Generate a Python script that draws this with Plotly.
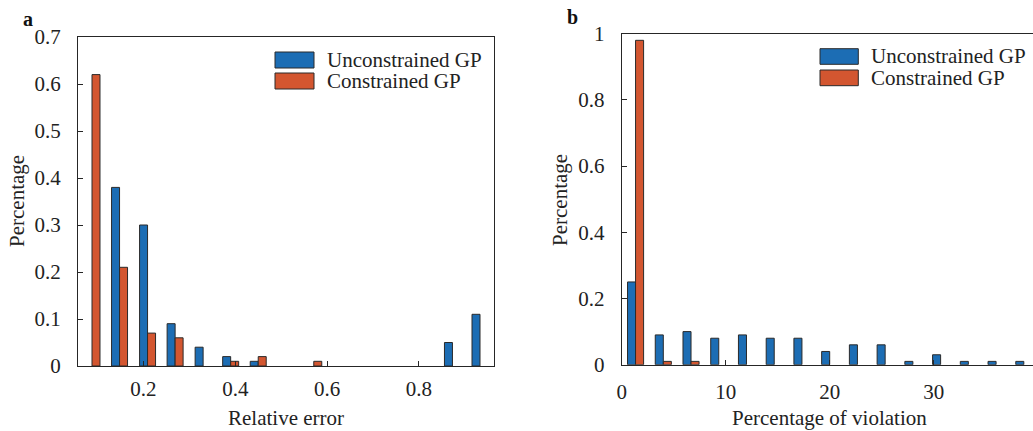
import plotly.graph_objects as go

# ---------------- data ----------------
# Panel a: relative error histogram (bin centres)
err_bins = [0.088, 0.148, 0.209, 0.269, 0.330, 0.390, 0.450, 0.511,
            0.571, 0.632, 0.692, 0.752, 0.813, 0.873, 0.933]
err_unconstrained = [0, 0.38, 0.30, 0.09, 0.04, 0.02, 0.01, 0, 0, 0, 0, 0, 0, 0.05, 0.11]
err_constrained = [0.62, 0.21, 0.07, 0.06, 0, 0.01, 0.02, 0, 0.01, 0, 0, 0, 0, 0, 0]

# Panel b: percentage of violation histogram (bin centres)
vio_bins = [1.333, 4.0, 6.667, 9.333, 12.0, 14.667, 17.333, 20.0,
            22.667, 25.333, 28.0, 30.667, 33.333, 36.0, 38.667]
vio_unconstrained = [0.25, 0.09, 0.10, 0.08, 0.09, 0.08, 0.08, 0.04,
                     0.06, 0.06, 0.01, 0.03, 0.01, 0.01, 0.01]
vio_constrained = [0.98, 0.01, 0.01, 0, 0, 0, 0, 0, 0, 0, 0, 0, 0, 0, 0]

series_names = ["Unconstrained GP", "Constrained GP"]
colors = ["#1c6db4", "#d35630"]

W, H = 1033, 431
FONT = "Liberation Serif, Times New Roman, serif"
AX = "#262626"
FS = 21

fig = go.Figure()

def add_bars(x, vals, name, col, xa, ya):
    fig.add_trace(go.Bar(
        x=x, y=vals, name=name,
        marker=dict(color=col, line=dict(color="#2a2a2a", width=[1 if v > 0 else 0 for v in vals])),
        xaxis=xa, yaxis=ya, showlegend=False))

add_bars(err_bins, err_unconstrained, series_names[0], colors[0], "x", "y")
add_bars(err_bins, err_constrained, series_names[1], colors[1], "x", "y")
add_bars(vio_bins, vio_unconstrained, series_names[0], colors[0], "x2", "y2")
add_bars(vio_bins, vio_constrained, series_names[1], colors[1], "x2", "y2")

def px_x(p):
    return p / W

def px_y(p):
    return 1 - p / H

axis_common = dict(showline=True, linecolor=AX, linewidth=1, ticks="inside", ticklen=5,
                   tickcolor=AX, showgrid=False, zeroline=False, automargin=False,
                   tickfont=dict(family=FONT, size=FS, color="#222"))

fig.update_layout(
    width=W, height=H, autosize=False,
    margin=dict(l=0, r=0, t=0, b=0, pad=0),
    plot_bgcolor="white", paper_bgcolor="white",
    barmode="group", bargap=0.42, bargroupgap=0,
    font=dict(family=FONT, size=FS, color="#222"),
    xaxis=dict(domain=[px_x(78), px_x(494)], range=[0.0575, 0.9635], anchor="y",
               tickvals=[0.2, 0.4, 0.6, 0.8], ticktext=["0.2", "0.4", "0.6", "0.8"],
               mirror=True, ticklabelstandoff=4, **axis_common),
    yaxis=dict(domain=[px_y(366), px_y(37)], range=[0, 0.7], anchor="x",
               dtick=0.1, mirror=True, ticklabelstandoff=12, **axis_common),
    xaxis2=dict(domain=[px_x(621.7), 1.0], range=[0, 39.55], anchor="y2",
                dtick=10, mirror=True, ticklabelstandoff=8, **axis_common),
    yaxis2=dict(domain=[px_y(364.7), px_y(33.7)], range=[0, 1], anchor="x2",
                dtick=0.2, mirror=False, ticklabelstandoff=12, **axis_common),
)

annotations = [
    dict(text="Relative error", x=px_x(286), y=px_y(418), xref="paper", yref="paper",
         showarrow=False, xanchor="center", yanchor="middle", font=dict(size=FS)),
    dict(text="Percentage", x=px_x(17), y=px_y(201), xref="paper", yref="paper",
         showarrow=False, textangle=-90, xanchor="center", yanchor="middle", font=dict(size=FS)),
    dict(text="Percentage of violation", x=px_x(829.7), y=px_y(418), xref="paper", yref="paper",
         showarrow=False, xanchor="center", yanchor="middle", font=dict(size=FS)),
    dict(text="Percentage", x=px_x(560), y=px_y(200), xref="paper", yref="paper",
         showarrow=False, textangle=-90, xanchor="center", yanchor="middle", font=dict(size=FS)),
    dict(text="<b>a</b>", x=px_x(28), y=px_y(19), xref="paper", yref="paper",
         showarrow=False, xanchor="center", yanchor="middle", font=dict(size=20, color="#111")),
    dict(text="<b>b</b>", x=px_x(572), y=px_y(17), xref="paper", yref="paper",
         showarrow=False, xanchor="center", yanchor="middle", font=dict(size=20, color="#111")),
]

shapes = []
# manual legends (patch boxes + labels)
legend_specs = [
    # (patch x0, patch x1, [(y0, y1)], text x)
    (275, 314, [(52, 68), (73, 89)], 325),
    (820, 858.3, [(48.7, 64.3), (70, 85.7)], 869),
]
for x0, x1, rows, tx in legend_specs:
    for (y0, y1), name, col in zip(rows, series_names, colors):
        shapes.append(dict(type="rect", xref="paper", yref="paper",
                           x0=px_x(x0), x1=px_x(x1), y0=px_y(y1), y1=px_y(y0),
                           fillcolor=col, line=dict(color="#2a2a2a", width=1)))
        annotations.append(dict(text=name, x=px_x(tx), y=px_y((y0 + y1) / 2), xref="paper", yref="paper",
                                showarrow=False, xanchor="left", yanchor="middle", font=dict(size=FS)))

fig.update_layout(annotations=annotations, shapes=shapes)

fig.write_html("out.html", config={"displayModeBar": False},
               post_script="document.body.style.margin='0';document.body.style.overflow='hidden';")
